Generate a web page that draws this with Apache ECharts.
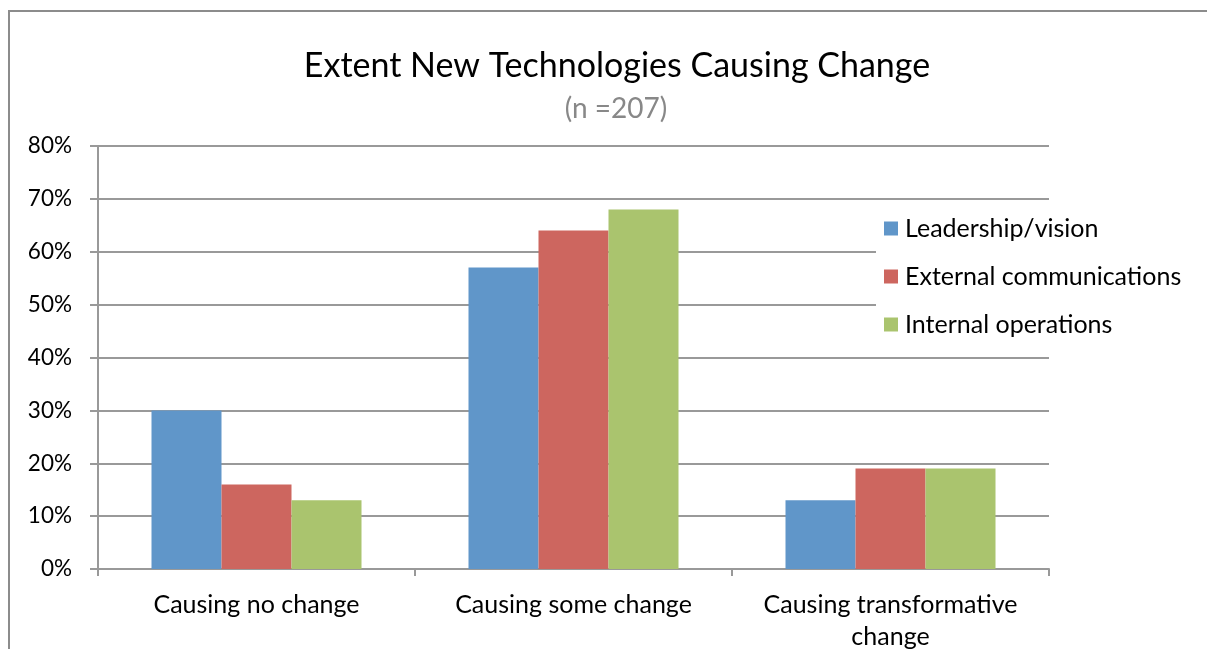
<!DOCTYPE html>
<html>
<head>
<meta charset="utf-8">
<script src="https://cdn.jsdelivr.net/npm/echarts@6/dist/echarts.min.js"></script>
<style>html,body{margin:0;padding:0;background:#fff;overflow:hidden}#c{width:1207px;height:649px}</style>
</head>
<body>
<div id="c"></div>
<script>
const categories = ['Causing no change', 'Causing some change', 'Causing transformative\nchange'];
const seriesNames = ['Leadership/vision', 'External communications', 'Internal operations'];
const leadership = [30, 57, 13];
const external = [16, 64, 19];
const internal = [13, 68, 19];
const yTicks = [0, 10, 20, 30, 40, 50, 60, 70, 80];
const colors = ['#6096c9', '#cd665f', '#aac46e'];

const chart = echarts.init(document.getElementById('c'), null, {renderer: 'canvas'});
const font = 'Lato, "Liberation Sans", sans-serif';
const values = [leadership, external, internal];
chart.setOption({
  backgroundColor: '#fff',
  animation: false,
  textStyle: {fontFamily: font},
  graphic: [
    {type: 'line', z: -1, shape: {x1: 9, y1: 11, x2: 9, y2: 649},
     style: {stroke: '#8c8c8c', lineWidth: 2}},
    {type: 'line', z: -1, shape: {x1: 8, y1: 11, x2: 1207, y2: 11},
     style: {stroke: '#8c8c8c', lineWidth: 2}}
  ],
  title: [
    {text: 'Extent New Technologies Causing Change', left: 612, textAlign: 'center', top: 44,
     textStyle: {fontFamily: font, fontSize: 34, fontWeight: 'normal', color: '#000'}},
    {text: '(n =207)', left: 611, textAlign: 'center', top: 90,
     textStyle: {fontFamily: font, fontSize: 28, fontWeight: 'normal', color: '#888'}}
  ],
  legend: {
    orient: 'vertical', left: 876, top: 208,
    data: seriesNames,
    icon: 'rect', itemWidth: 14, itemHeight: 14, itemGap: 23,
    backgroundColor: '#fff', padding: [8, 12, 8, 8],
    textStyle: {fontFamily: font, fontSize: 25, color: '#000', padding: [0, 0, 0, 2]}
  },
  grid: {left: 98, right: 158, top: 146, bottom: 80, outerBoundsMode: 'none', containLabel: false},
  xAxis: {
    type: 'category', data: categories,
    axisLine: {lineStyle: {color: '#999', width: 2}},
    axisTick: {show: true, length: 7, lineStyle: {color: '#999', width: 2}},
    axisLabel: {fontFamily: font, fontSize: 25, color: '#000', margin: 20, lineHeight: 32,
      interval: 0, hideOverlap: false}
  },
  yAxis: {
    type: 'value', min: 0, max: 80, interval: 10,
    axisLine: {show: true, lineStyle: {color: '#999', width: 2}},
    axisTick: {show: true, length: 8, lineStyle: {color: '#999', width: 2}},
    splitLine: {lineStyle: {color: '#999', width: 2}},
    axisLabel: {fontFamily: font, fontSize: 22.5, color: '#000', margin: 26,
      formatter: v => yTicks.includes(v) ? v + '%' : ''}
  },
  series: seriesNames.map((n, i) => ({
    name: n, type: 'bar', data: values[i],
    barWidth: 70, barGap: '0%',
    itemStyle: {color: colors[i]}
  }))
});
</script>
</body>
</html>
